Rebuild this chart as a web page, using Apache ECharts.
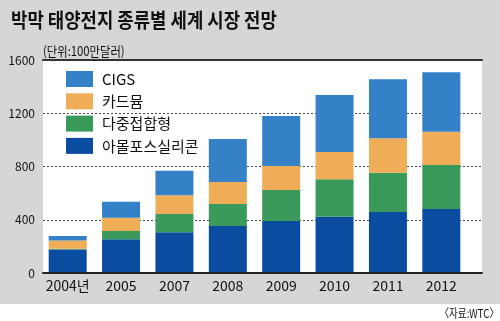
<!DOCTYPE html>
<html>
<head>
<meta charset="utf-8">
<script src="https://cdn.jsdelivr.net/npm/echarts@6/dist/echarts.min.js"></script>
<style>html,body{margin:0;padding:0;}#c{width:500px;height:321px;}</style>
</head>
<body>
<div id="c"></div>
<script>
const categories = ['2004년', '2005', '2007', '2008', '2009', '2010', '2011', '2012'];
const amorphous = [177, 253, 306, 353, 391, 423, 458, 481];
const multiJunction = [6, 62, 137, 165, 232, 281, 295, 330];
const cadmium = [62, 100, 141, 166, 181, 205, 259, 250];
const cigs = [33, 121, 184, 323, 375, 428, 443, 447];
const seriesNames = ['아몰포스실리콘', '다중접합형', '카드뮴', 'CIGS'];
const legendOrder = ['CIGS', '카드뮴', '다중접합형', '아몰포스실리콘'];
const yTicks = [0, 400, 800, 1200, 1600];
const titleText = '박막 태양전지 종류별 세계 시장 전망';
const unitText = '(단위:100만달러)';
const sourceText = '〈자료:WTC〉';

const colors = {
  '아몰포스실리콘': '#0a4ca0',
  '다중접합형': '#3a9a5c',
  '카드뮴': '#efad58',
  'CIGS': '#3581c8'
};
const numFont = "'Liberation Sans Narrow', 'Noto Sans CJK KR', sans-serif";
const krFont = "'Noto Sans CJK KR', sans-serif";

const chart = echarts.init(document.getElementById('c'), null, {renderer: 'canvas'});
const values = [amorphous, multiJunction, cadmium, cigs];

const option = {
  animation: false,
  backgroundColor: '#d6d6d6',
  graphic: [
    {type: 'rect', shape: {x: 0, y: 304, width: 500, height: 17}, style: {fill: '#ffffff'}, silent: true},
    {type: 'text', x: 11, y: 20, scaleX: 0.89,
      style: {text: titleText, font: "bold 20px 'Noto Sans CJK KR', sans-serif", fill: '#111', textAlign: 'left', textVerticalAlign: 'middle'}},
    {type: 'text', x: 43, y: 51, scaleX: 0.87,
      style: {text: unitText, font: "13px 'Noto Sans CJK KR', sans-serif", fill: '#111', textAlign: 'left', textVerticalAlign: 'middle'}},
    {type: 'text', x: 499, y: 313, scaleX: 0.8,
      style: {text: sourceText, font: "12px 'Noto Sans CJK KR', sans-serif", fill: '#111', textAlign: 'right', textVerticalAlign: 'middle'}}
  ],
  legend: {
    data: legendOrder,
    orient: 'vertical',
    left: 66,
    top: 71,
    padding: 0,
    itemWidth: 27,
    itemHeight: 16,
    itemGap: 6.3,
    icon: 'rect',
    textStyle: {fontFamily: krFont, fontSize: 15, color: '#111', padding: [0, 0, 0, 4]}
  },
  grid: [
    {left: 43, right: 18, top: 60, bottom: 48, show: true, backgroundColor: '#ffffff', borderWidth: 0},
    {left: 41, width: 427, top: 60, bottom: 48}
  ],
  xAxis: [
    {gridIndex: 0, type: 'value', min: 0, max: 1, position: 'bottom', z: 5,
      axisLine: {show: true, lineStyle: {color: '#222', width: 2}},
      axisTick: {show: false}, axisLabel: {show: false}, splitLine: {show: false}},
    {gridIndex: 0, type: 'value', min: 0, max: 1, position: 'top', z: 5,
      axisLine: {show: true, lineStyle: {color: '#333', width: 2}},
      axisTick: {show: false}, axisLabel: {show: false}, splitLine: {show: false}},
    {gridIndex: 1, type: 'category', data: categories,
      axisLine: {show: false}, axisTick: {show: false},
      axisLabel: {interval: 0, fontFamily: numFont, fontSize: 14, color: '#111', margin: 6}}
  ],
  yAxis: [
    {gridIndex: 0, type: 'value', min: yTicks[0], max: yTicks[yTicks.length - 1], interval: 400,
      axisLine: {show: false}, axisTick: {show: false},
      axisLabel: {fontFamily: numFont, fontSize: 12, color: '#111', margin: 8, formatter: v => String(v)},
      splitLine: {show: true, lineStyle: {color: '#444', type: [2, 2], width: 1}}},
    {gridIndex: 1, type: 'value', min: yTicks[0], max: yTicks[yTicks.length - 1], show: false,
      splitLine: {show: false}}
  ],
  series: seriesNames.map((name, i) => ({
    name: name,
    type: 'bar',
    stack: 'total',
    xAxisIndex: 2,
    yAxisIndex: 1,
    barWidth: 38,
    itemStyle: {color: colors[name]},
    data: values[i]
  }))
};
chart.setOption(option);
</script>
</body>
</html>
